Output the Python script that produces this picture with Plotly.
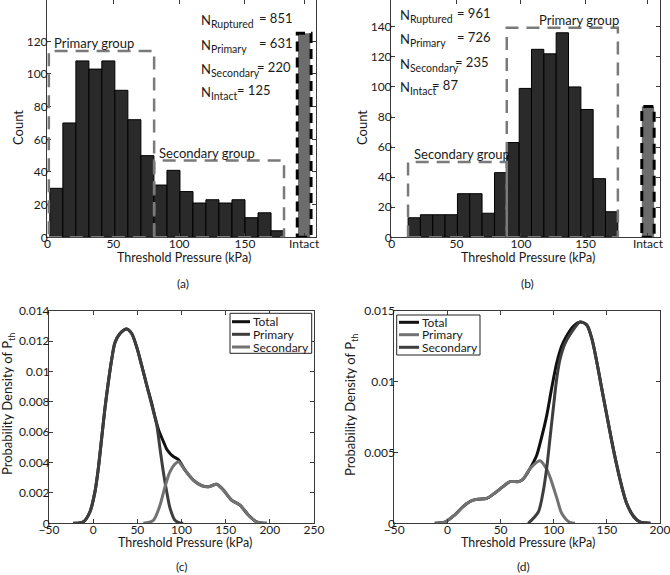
import plotly.graph_objects as go

# ---------------- data ----------------
# (a) histogram
a_bin_centers = [6.7, 16.6, 26.5, 36.4, 46.2, 56.1, 66.0, 75.9, 85.8, 95.7,
                 105.6, 115.4, 125.3, 135.2, 145.1, 155.0, 164.9, 174.8]
a_counts = [30, 70, 108, 103, 108, 90, 72, 50, 32, 41, 28, 21, 23, 21, 23, 12, 15, 4]
a_bin_width = 9.89
a_intact_x = 195.0
a_intact_count = 125
a_group_names = ["Primary group", "Secondary group"]
a_group_x0 = [1.0, 81.0]
a_group_x1 = [81.0, 179.7]
a_group_top = [114, 47]
a_n_values = [851, 631, 220, 125]

# (b) histogram
b_bin_centers = [17.4, 26.9, 36.5, 46.0, 55.6, 65.1, 74.7, 84.3, 93.8, 103.4,
                 112.9, 122.5, 132.0, 141.6, 151.1, 160.7, 170.2]
b_counts = [13, 15, 15, 15, 29, 29, 16, 43, 63, 99, 125, 122, 136, 100, 85, 39, 17]
b_bin_width = 9.55
b_intact_x = 198.3
b_intact_count = 87
b_group_names = ["Secondary group", "Primary group"]
b_group_x0 = [12.6, 89.0]
b_group_x1 = [89.0, 175.0]
b_group_top = [50, 139.3]
b_n_values = [961, 726, 235, 87]

n_names = ["Ruptured", "Primary", "Secondary", "Intact"]
hist_ticktext = ["0", "50", "100", "150", "Intact"]

# (c) densities
c_total_x = [-22.5, -11, -3.6, 2.1, 5.8, 9.6, 13.4, 17.2, 21, 24.7, 30.4, 38, 43.6, 49.3,
             54.9, 60.6, 66.3, 70, 73.8, 79.4, 83.2, 87, 90.8, 96.4, 104, 113.4, 122.8,
             130.4, 139.8, 147.3, 156.7, 166.2, 175.6, 185.1, 196.4]
c_total_y = [0, 0.0001, 0.00076, 0.0021, 0.0036, 0.0056, 0.0076, 0.0093, 0.0108, 0.0119,
             0.0125, 0.0128, 0.0125, 0.0116, 0.0104, 0.0091, 0.0079, 0.0070, 0.0062, 0.0054,
             0.0049, 0.0046, 0.0044, 0.0042, 0.0035, 0.00285, 0.00248, 0.0024, 0.00257,
             0.0022, 0.00153, 0.0012, 0.00055, 0.0001, 0]
c_primary_x = [-22.5, -11, -3.6, 2.1, 5.8, 9.6, 13.4, 17.2, 21, 24.7, 30.4, 38, 43.6, 49.3,
               54.9, 60.6, 66.3, 71.9, 75.7, 79.4, 83.2, 87, 92.6, 98.3, 102]
c_primary_y = [0, 0.0001, 0.00076, 0.0021, 0.0036, 0.0056, 0.0076, 0.0093, 0.0108, 0.0119,
               0.0125, 0.0128, 0.0125, 0.0116, 0.0104, 0.0091, 0.0078, 0.0065, 0.0049, 0.0034,
               0.0021, 0.001, 0.0002, 0.00002, 0]
c_secondary_x = [56.8, 68.1, 75.7, 81.3, 87, 92.6, 96.4, 104, 113.4, 122.8, 130.4, 139.8,
                 147.3, 156.7, 166.2, 175.6, 185.1, 196.4]
c_secondary_y = [0, 0.0002, 0.0012, 0.0024, 0.0034, 0.0039, 0.00406, 0.0035, 0.00285,
                 0.00248, 0.0024, 0.00257, 0.0022, 0.00153, 0.0012, 0.00055, 0.0001, 0]

# (d) densities
d_total_x = [-12, -2, 7, 15, 23, 29, 37, 45, 53, 59, 67, 71, 78, 84, 88.7, 93.4, 98,
             102.8, 107.5, 112, 118.5, 124.8, 131, 135.8, 140.5, 145.2, 150, 154.6, 159.3,
             164, 168.7, 175, 181, 191]
d_total_y = [0, 0.0001, 0.0006, 0.0012, 0.0016, 0.0017, 0.00176, 0.00216, 0.00263, 0.00294,
             0.00294, 0.0031, 0.0039, 0.0048, 0.0061, 0.0076, 0.0095, 0.0113, 0.0125, 0.0132,
             0.0139, 0.0142, 0.0140, 0.01305, 0.0114, 0.0095, 0.0076, 0.0058, 0.0041, 0.0026,
             0.0014, 0.0005, 0.0001, 0]
d_primary_x = [-12, -2, 7, 15, 23, 29, 37, 45, 53, 59, 67, 71, 78, 87, 93, 98, 103,
               107.5, 115, 120]
d_primary_y = [0, 0.0001, 0.0006, 0.0012, 0.0016, 0.0017, 0.00176, 0.00216, 0.00263,
               0.00294, 0.00294, 0.0031, 0.00388, 0.00442, 0.00388, 0.00294, 0.00176,
               0.00071, 0.00007, 0]
d_secondary_x = [76, 85.5, 90, 93.4, 96.5, 99.6, 102.8, 106, 110.7, 117, 124.8, 131, 135.8,
                 140.5, 145.2, 150, 154.6, 159.3, 164, 168.7, 175, 181, 191]
d_secondary_y = [0, 0.0008, 0.0022, 0.0039, 0.006, 0.0081, 0.0102, 0.0116, 0.0127, 0.0135,
                 0.0142, 0.0140, 0.01305, 0.0114, 0.0095, 0.0076, 0.0058, 0.0041, 0.0026,
                 0.0014, 0.0005, 0.0001, 0]

c_yticks = [0, 0.002, 0.004, 0.006, 0.008, 0.01, 0.012, 0.014]
c_yticktext = ["0", "0.002", "0.004", "0.006", "0.008", "0.01", "0.012", "0.014"]
d_yticks = [0, 0.005, 0.01, 0.015]
d_yticktext = ["0", "0.005", "0.01", "0.015"]

# ---------------- figure ----------------
W, H = 670, 575
FONT = "Lato"
TXT = "#1a1a1a"


def fx(p):
    return p / W


def fy(p):
    return 1 - p / H


fig = go.Figure()

BAR_COL = "#2a2a2a"
INTACT_COL = "#6c6c6c"

fig.add_trace(go.Bar(x=a_bin_centers, y=a_counts, width=a_bin_width,
                     marker=dict(color=BAR_COL, line=dict(color="#000", width=1)),
                     xaxis="x", yaxis="y", showlegend=False))
fig.add_trace(go.Bar(x=[a_intact_x], y=[a_intact_count], width=a_bin_width * 0.94,
                     marker=dict(color=INTACT_COL, line=dict(width=0)),
                     xaxis="x", yaxis="y", showlegend=False))
fig.add_trace(go.Bar(x=b_bin_centers, y=b_counts, width=b_bin_width,
                     marker=dict(color=BAR_COL, line=dict(color="#000", width=1)),
                     xaxis="x2", yaxis="y2", showlegend=False))
fig.add_trace(go.Bar(x=[b_intact_x], y=[b_intact_count], width=b_bin_width,
                     marker=dict(color=INTACT_COL, line=dict(width=0)),
                     xaxis="x2", yaxis="y2", showlegend=False))

C_TOT, C_DARK, C_LIGHT = "#111111", "#3e3e3e", "#727272"
LW = 3
c_series = [("Total", c_total_x, c_total_y, C_TOT),
            ("Primary", c_primary_x, c_primary_y, C_DARK),
            ("Secondary", c_secondary_x, c_secondary_y, C_LIGHT)]
d_series = [("Total", d_total_x, d_total_y, C_TOT),
            ("Primary", d_primary_x, d_primary_y, C_LIGHT),
            ("Secondary", d_secondary_x, d_secondary_y, C_DARK)]
for name, xs, ys, col in c_series:
    fig.add_trace(go.Scatter(x=xs, y=ys, mode="lines", name=name,
                             line=dict(color=col, width=LW, shape="spline", smoothing=0.8),
                             xaxis="x3", yaxis="y3", showlegend=False))
for name, xs, ys, col in d_series:
    fig.add_trace(go.Scatter(x=xs, y=ys, mode="lines", name=name,
                             line=dict(color=col, width=LW, shape="spline", smoothing=0.8),
                             xaxis="x4", yaxis="y4", showlegend=False))

axis_style = dict(showline=True, linecolor="#3a3a3a", linewidth=1, mirror="ticks", ticks="inside", ticklen=4,
                  tickcolor="#3a3a3a", showgrid=False, zeroline=False, automargin=False,
                  ticklabeloverflow="allow", tickfont=dict(family=FONT, size=12, color=TXT))
xstyle = dict(axis_style, ticklabelstandoff=-5)
ystyle = dict(axis_style, ticklabelstandoff=-4)

top_dom = [fy(237.3), 1.0]
bot_dom = [fy(523.3), fy(310.7)]

fig.update_layout(
    width=W, height=H, margin=dict(l=0, r=0, t=0, b=0, pad=0), autosize=False,
    paper_bgcolor="white", plot_bgcolor="white", barmode="overlay", showlegend=False,
    font=dict(family=FONT, size=12, color=TXT),
    xaxis=dict(xstyle, domain=[fx(47), fx(316)], range=[-0.4, 204], anchor="y",
               tickvals=[0, 50, 100, 150, a_intact_x], ticktext=hist_ticktext),
    yaxis=dict(ystyle, domain=top_dom, range=[0, 145.3], anchor="x", tickvals=list(range(0, 121, 20))),
    xaxis2=dict(xstyle, domain=[fx(391), fx(660)], range=[-0.6, 207.6], anchor="y2",
                tickvals=[0, 50, 100, 150, b_intact_x], ticktext=hist_ticktext),
    yaxis2=dict(ystyle, domain=top_dom, range=[0, 157.8], anchor="x2", tickvals=list(range(0, 141, 20))),
    xaxis3=dict(xstyle, domain=[fx(49), fx(314)], range=[-50, 250], anchor="y3", dtick=50),
    yaxis3=dict(ystyle, domain=bot_dom, range=[0, 0.014], anchor="x3", tickvals=c_yticks, ticktext=c_yticktext),
    xaxis4=dict(xstyle, domain=[fx(394.3), fx(660)], range=[-50, 200], anchor="y4",
                tickvals=[-50, 0, 50, 100, 150, 200]),
    yaxis4=dict(ystyle, domain=bot_dom, range=[0, 0.015], anchor="x4", tickvals=d_yticks, ticktext=d_yticktext),
)

shapes = []
GRAY_DASH = dict(color="#7a7a7a", width=2.5, dash="13px,8px")
BLACK_DASH = dict(color="#000000", width=3, dash="10px,6px")
for xr, yr, x0s, x1s, tops in [("x", "y", a_group_x0, a_group_x1, a_group_top),
                               ("x2", "y2", b_group_x0, b_group_x1, b_group_top)]:
    for x0, x1, t in zip(x0s, x1s, tops):
        shapes.append(dict(type="rect", xref=xr, yref=yr, x0=x0, x1=x1, y0=0, y1=t, line=GRAY_DASH, layer="above"))
shapes.append(dict(type="rect", xref="x", yref="y", x0=a_intact_x - a_bin_width / 2 - 0.3,
                   x1=a_intact_x + a_bin_width / 2 + 0.3, y0=0, y1=a_intact_count, line=BLACK_DASH, layer="above"))
shapes.append(dict(type="rect", xref="x2", yref="y2", x0=b_intact_x - b_bin_width / 2,
                   x1=b_intact_x + b_bin_width / 2, y0=0, y1=b_intact_count, line=BLACK_DASH, layer="above"))

ann = []


def text(x, y, s, size=12, xanchor="center", yanchor="middle", angle=0, xref="paper", yref="paper"):
    ann.append(dict(x=x, y=y, xref=xref, yref=yref, text=s, showarrow=False, xanchor=xanchor, yanchor=yanchor,
                    textangle=angle, font=dict(family=FONT, size=size, color=TXT)))


# compact boxed legends for (c) and (d), as in the reference
def legend_box(series, box, line_x, text_x, rows):
    shapes.append(dict(type="rect", xref="paper", yref="paper", x0=fx(box[0]), x1=fx(box[1]),
                       y0=fy(box[3]), y1=fy(box[2]), line=dict(color="#222", width=1),
                       fillcolor="white", layer="above"))
    for (name, _xs, _ys, col), ry in zip(series, rows):
        shapes.append(dict(type="line", xref="paper", yref="paper", x0=fx(line_x[0]), x1=fx(line_x[1]),
                           y0=fy(ry), y1=fy(ry), line=dict(color=col, width=LW), layer="above"))
        text(fx(text_x), fy(ry), name, 12, "left", "middle")


legend_box(c_series, (230, 311.7, 313.3, 353.3), (232, 250), 251, [321.7, 334.3, 347.0])
legend_box(d_series, (396.7, 480, 315, 355), (399, 419), 420, [322.3, 334.7, 347.3])
fig.update_layout(shapes=shapes)

# group labels
text(3.6, 118.8, a_group_names[0], 13, "left", "middle", xref="x", yref="y")
text(83.2, 51.8, a_group_names[1], 13, "left", "middle", xref="x", yref="y")
text(16.0, 55.4, b_group_names[0], 13, "left", "middle", xref="x2", yref="y2")
text(112.5, 144.5, b_group_names[1], 13, "left", "middle", xref="x2", yref="y2")

# N counts
SUB = "N<sub><span style='font-size:10.5px'>%s</span></sub>"
a_rows = [18.3, 42.7, 66.7, 90.0]
a_val_x = [256.7, 256.7, 255.0, 235.0]
b_rows = [13.3, 37.3, 61.7, 85.0]
b_val_x = [455.0, 455.0, 453.3, 430.0]
for i, nm in enumerate(n_names):
    text(fx(199), fy(a_rows[i] + 3), SUB % nm, 13, "left", "middle")
    text(fx(a_val_x[i]), fy(a_rows[i]), "= %d" % a_n_values[i], 13, "left", "middle")
    text(fx(398.3), fy(b_rows[i] + 3), SUB % nm, 13, "left", "middle")
    text(fx(b_val_x[i]), fy(b_rows[i]), "= %d" % b_n_values[i], 13, "left", "middle")

# axis titles
text(fx(18), fy(128), "Count", 13, angle=-90)
text(fx(362), fy(128), "Count", 13, angle=-90)
text(fx(184), fy(257.5), "Threshold Pressure (kPa)", 12.5)
text(fx(527.5), fy(257.5), "Threshold Pressure (kPa)", 12.5)
text(fx(185), fy(542.5), "Threshold Pressure (kPa)", 12.5)
text(fx(528), fy(542.5), "Threshold Pressure (kPa)", 12.5)
text(fx(8), fy(404), "Probability Density of P<sub>th</sub>", 13, angle=-90)
text(fx(351), fy(405), "Probability Density of P<sub>th</sub>", 13, angle=-90)

# panel captions
text(fx(183), fy(283.3), "(a)", 12)
text(fx(527), fy(283.3), "(b)", 12)
text(fx(182), fy(566.5), "(c)", 12)
text(fx(523), fy(566.5), "(d)", 12)

fig.update_layout(annotations=ann)
fig.write_html("out.html", config={"displayModeBar": False},
               post_script="document.body.style.margin='0';document.body.style.padding='0';"
                           "document.documentElement.style.overflow='hidden';")
